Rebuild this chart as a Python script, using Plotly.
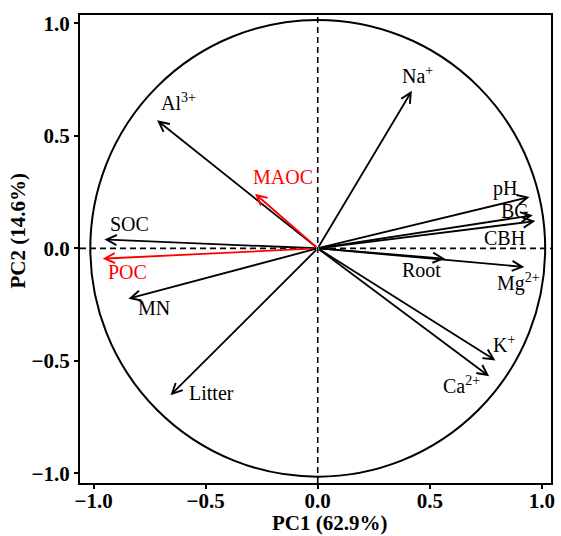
import plotly.graph_objects as go

# Loadings (PC1, PC2)
variables = ["Na+", "Al3+", "MAOC", "SOC", "POC", "MN", "Litter",
             "pH", "BG", "CBH", "Root", "Mg2+", "K+", "Ca2+"]
labels = ["Na<sup>+</sup>", "Al<sup>3+</sup>", "MAOC", "SOC", "POC", "MN", "Litter",
          "pH", "BG", "CBH", "Root", "Mg<sup>2+</sup>", "K<sup>+</sup>", "Ca<sup>2+</sup>"]
pc1 = [0.42, -0.717, -0.28, -0.952, -0.96, -0.845, -0.657,
       0.945, 0.96, 0.971, 0.568, 0.922, 0.793, 0.765]
pc2 = [0.70, 0.569, 0.243, 0.039, -0.046, -0.224, -0.653,
       0.228, 0.147, 0.121, -0.046, -0.083, -0.498, -0.569]
colors = ["black", "black", "red", "black", "red", "black", "black",
          "black", "black", "black", "black", "black", "black", "black"]
# label anchor positions (data units)
label_x = [0.447, -0.62, -0.155, -0.84, -0.85, -0.73, -0.474,
           0.835, 0.88, 0.833, 0.465, 0.895, 0.83, 0.64]
label_y = [0.77, 0.65, 0.316, 0.107, -0.107, -0.267, -0.644,
           0.265, 0.164, 0.044, -0.098, -0.151, -0.427, -0.609]

tick_vals = [-1.0, -0.5, 0.0, 0.5, 1.0]
x_title = "PC1 (62.9%)"
y_title = "PC2 (14.6%)"

FONT = "Liberation Serif"
fig = go.Figure()
fig.add_trace(go.Scatter(x=[0], y=[0], mode="markers", marker=dict(size=1, color="rgba(0,0,0,0)"),
                         showlegend=False, hoverinfo="skip"))

r = 1.015
fig.add_shape(type="circle", xref="x", yref="y", x0=-r, x1=r, y0=-r, y1=r,
              line=dict(color="black", width=2))
fig.add_shape(type="line", xref="x", yref="paper", x0=0, x1=0, y0=0, y1=1,
              line=dict(color="black", width=1.6, dash="6px,4px"))
fig.add_shape(type="line", xref="paper", yref="y", x0=0, x1=1, y0=0, y1=0,
              line=dict(color="black", width=1.6, dash="6px,4px"))

for i in range(len(variables)):
    fig.add_annotation(x=pc1[i], y=pc2[i], ax=0, ay=0, xref="x", yref="y",
                       axref="x", ayref="y", showarrow=True, arrowhead=5,
                       arrowsize=1.1, arrowwidth=1.8, standoff=0, startstandoff=0,
                       arrowcolor=colors[i], text="")
    fig.add_annotation(x=label_x[i], y=label_y[i], xref="x", yref="y",
                       text=labels[i], showarrow=False,
                       font=dict(family=FONT, size=20, color=colors[i]))

fig.add_annotation(x=(332 - 80) / 475, y=-(523 - 483) / 468, xref="paper", yref="paper",
                   text="<b>" + x_title + "</b>", showarrow=False,
                   xanchor="center", yanchor="middle",
                   font=dict(family=FONT, size=21, color="black"))
fig.add_annotation(x=(17 - 80) / 475, y=(483 - 231) / 468, xref="paper", yref="paper",
                   text="<b>" + y_title + "</b>", showarrow=False, textangle=-90,
                   xanchor="center", yanchor="middle",
                   font=dict(family=FONT, size=21, color="black"))

axis_common = dict(showgrid=False, zeroline=False, showline=True, linecolor="black",
                   linewidth=2, mirror=True, ticks="outside", ticklen=4, tickwidth=1.5,
                   tickcolor="black", tickvals=tick_vals, tickformat=".1f",
                   tickfont=dict(family=FONT, size=21, color="black", weight="bold"))
fig.update_xaxes(range=[-1.061, 1.041], ticklabelstandoff=-6, **axis_common)
fig.update_yaxes(range=[-1.043, 1.037], **axis_common)

fig.update_layout(width=561, height=536, margin=dict(l=80, r=6, t=15, b=53),
                  plot_bgcolor="white", paper_bgcolor="white", showlegend=False)
fig.write_html("out.html")
